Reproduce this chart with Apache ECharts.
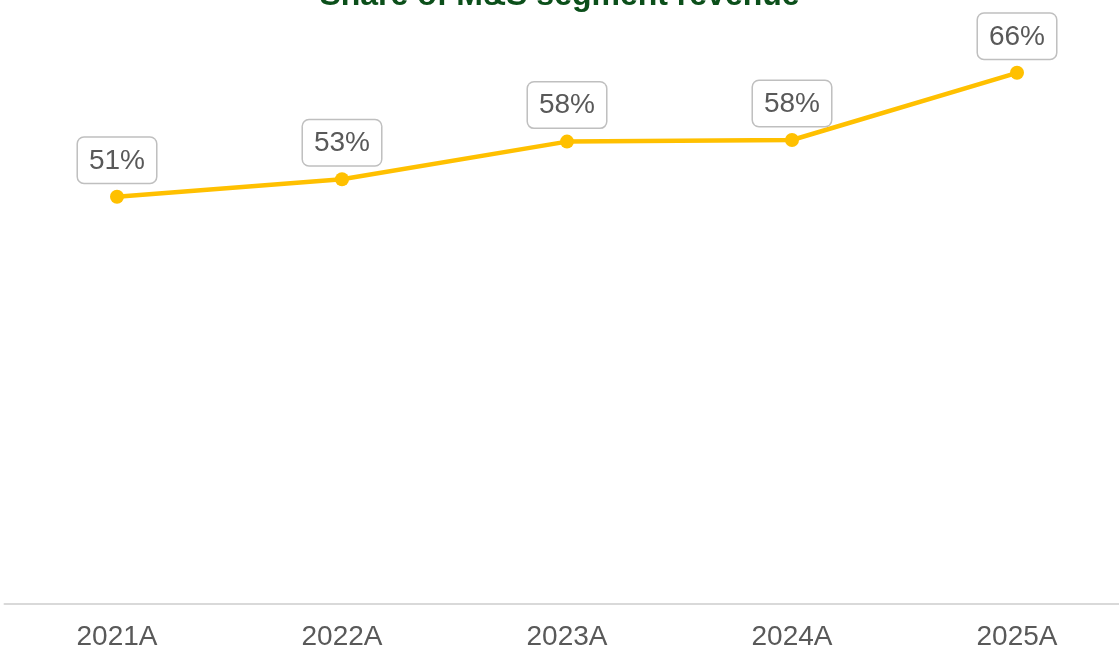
<!DOCTYPE html>
<html><head><meta charset="utf-8">
<script src="https://cdn.jsdelivr.net/npm/echarts@6/dist/echarts.min.js"></script>
<style>html,body{margin:0;padding:0;background:#fff}#c{width:1119px;height:651px}</style>
</head><body><div id="c"></div>
<script>
const categories = ['2021A','2022A','2023A','2024A','2025A'];
const shareValues = [50.9, 53.1, 57.8, 58.0, 66.4];
const shareLabels = ['51%','53%','58%','58%','66%'];
const titleText = 'Share of M&S segment revenue';

const chart = echarts.init(document.getElementById('c'));
chart.setOption({
  animation: false,
  title: {
    text: titleText, left: 'center', top: -25,
    textStyle: {fontFamily: 'Liberation Sans, Arial, sans-serif', fontSize: 32, fontWeight: 'bold', color: '#0b4f1a'}
  },
  grid: {left: 4.5, right: -10.5, top: 4, bottom: 47, containLabel: false, outerBoundsMode: 'none'},
  xAxis: {
    type: 'category', data: categories, boundaryGap: true,
    axisLine: {lineStyle: {color: '#d9d9d9', width: 2}},
    axisTick: {show: false},
    axisLabel: {fontFamily: 'Liberation Sans, Arial, sans-serif', fontSize: 28, color: '#595959', margin: 19}
  },
  yAxis: {type: 'value', min: 0, max: 75, show: false, splitLine: {show: false}},
  series: [{
    type: 'line', data: shareValues,
    lineStyle: {color: '#ffc000', width: 4.5},
    itemStyle: {color: '#ffc000'},
    symbol: 'circle', symbolSize: 14,
    label: {
      show: true, position: 'top', distance: 7,
      formatter: p => shareLabels[p.dataIndex],
      fontFamily: 'Liberation Sans, Arial, sans-serif', fontSize: 28, color: '#595959',
      backgroundColor: '#fff', borderColor: '#bfbfbf', borderWidth: 1.5, borderRadius: 6,
      padding: [9, 11, 8, 11]
    }
  }]
});
</script></body></html>
